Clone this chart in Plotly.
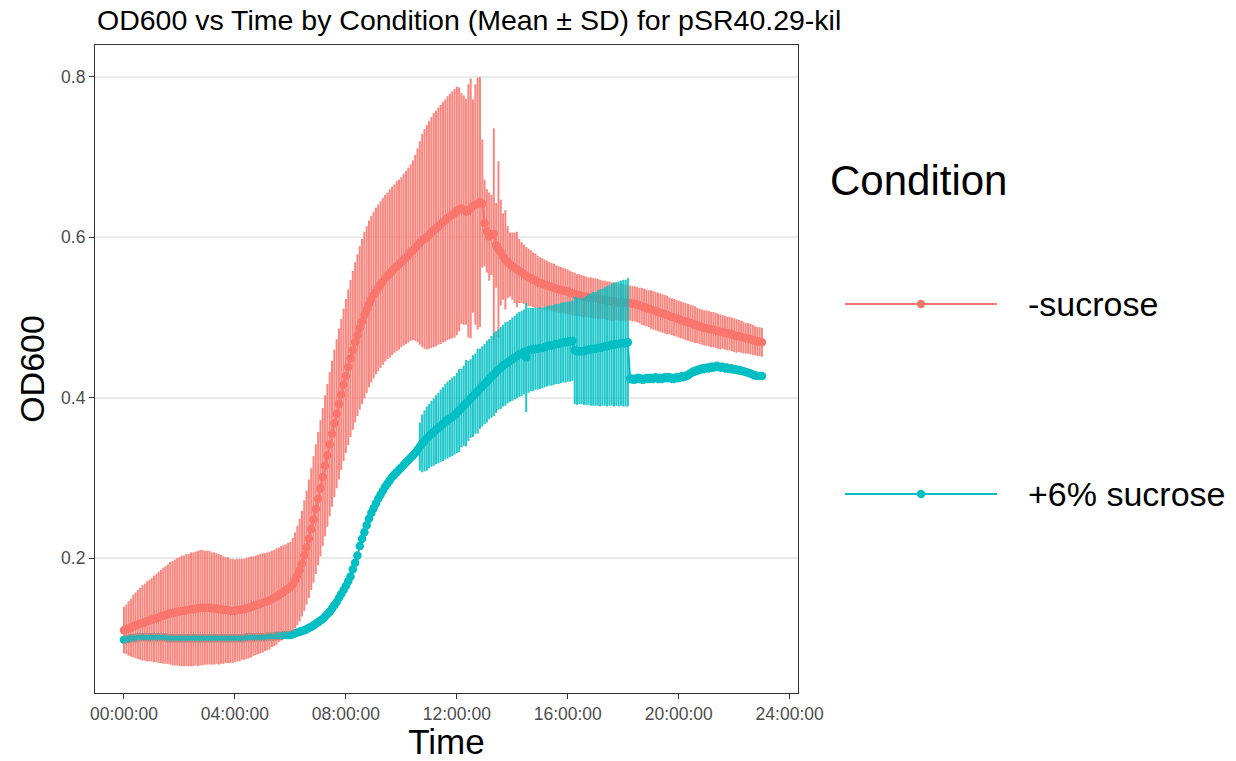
import plotly.graph_objects as go

# Plate-reader sampling interval (minutes); one row below = one hour of readings
SAMPLE_MIN = 5

CONDITIONS = ["-sucrose", "+6% sucrose"]
COLORS = {"-sucrose": "#F8766D", "+6% sucrose": "#00BFC4"}
BAR_COLORS = {"-sucrose": "rgba(248,118,109,0.88)", "+6% sucrose": "rgba(0,191,196,0.88)"}

TICK_HOURS = [0, 4, 8, 12, 16, 20, 24]
TICK_LABELS = ["00:00:00", "04:00:00", "08:00:00", "12:00:00", "16:00:00", "20:00:00", "24:00:00"]
Y_TICKS = [0.2, 0.4, 0.6, 0.8]
Y_TICK_LABELS = ["0.2", "0.4", "0.6", "0.8"]

# mean OD600, -sucrose
od_minus_mean = [
    0.110, 0.111, 0.112, 0.113, 0.115, 0.116, 0.117, 0.118, 0.119, 0.120, 0.121, 0.122,
    0.123, 0.124, 0.125, 0.126, 0.127, 0.128, 0.129, 0.130, 0.131, 0.131, 0.132, 0.133,
    0.133, 0.134, 0.134, 0.135, 0.135, 0.136, 0.136, 0.137, 0.137, 0.138, 0.138, 0.138,
    0.138, 0.138, 0.137, 0.137, 0.137, 0.136, 0.136, 0.135, 0.135, 0.135, 0.134, 0.134,
    0.134, 0.135, 0.135, 0.136, 0.136, 0.137, 0.138, 0.139, 0.140, 0.141, 0.142, 0.143,
    0.144, 0.145, 0.146, 0.147, 0.149, 0.150, 0.152, 0.154, 0.156, 0.158, 0.160, 0.162,
    0.164, 0.167, 0.172, 0.178, 0.185, 0.193, 0.203, 0.213, 0.224, 0.236, 0.248, 0.261,
    0.274, 0.287, 0.301, 0.315, 0.328, 0.342, 0.355, 0.368, 0.380, 0.392, 0.404, 0.416,
    0.427, 0.438, 0.449, 0.459, 0.469, 0.478, 0.487, 0.495, 0.503, 0.510, 0.517, 0.523,
    0.528, 0.533, 0.537, 0.541, 0.545, 0.549, 0.552, 0.555, 0.558, 0.561, 0.564, 0.566,
    0.569, 0.572, 0.575, 0.578, 0.581, 0.584, 0.587, 0.590, 0.593, 0.596, 0.598, 0.600,
    0.603, 0.606, 0.609, 0.611, 0.614, 0.616, 0.619, 0.621, 0.624, 0.626, 0.628, 0.630,
    0.633, 0.635, 0.636, 0.634, 0.632, 0.633, 0.636, 0.639, 0.641, 0.642, 0.644, 0.642,
    0.618, 0.608, 0.601, 0.603, 0.604, 0.590, 0.585, 0.581, 0.576, 0.572, 0.569, 0.566,
    0.564, 0.562, 0.560, 0.558, 0.556, 0.554, 0.552, 0.550, 0.549, 0.547, 0.546, 0.544,
    0.543, 0.542, 0.541, 0.540, 0.539, 0.538, 0.537, 0.536, 0.535, 0.534, 0.534, 0.533,
    0.532, 0.531, 0.530, 0.529, 0.528, 0.528, 0.527, 0.526, 0.526, 0.525, 0.525, 0.524,
    0.524, 0.523, 0.523, 0.522, 0.522, 0.521, 0.521, 0.520, 0.520, 0.520, 0.519, 0.519,
    0.519, 0.518, 0.518, 0.518, 0.517, 0.517, 0.516, 0.515, 0.514, 0.513, 0.512, 0.511,
    0.510, 0.509, 0.508, 0.507, 0.506, 0.505, 0.504, 0.503, 0.502, 0.501, 0.500, 0.499,
    0.498, 0.497, 0.496, 0.495, 0.494, 0.493, 0.492, 0.491, 0.490, 0.489, 0.488, 0.487,
    0.487, 0.486, 0.485, 0.485, 0.484, 0.483, 0.482, 0.482, 0.481, 0.480, 0.480, 0.479,
    0.478, 0.477, 0.477, 0.476, 0.475, 0.474, 0.474, 0.473, 0.472, 0.471, 0.470, 0.470,
    0.469,
]

# standard deviation, -sucrose
od_minus_sd = [
    0.029, 0.031, 0.034, 0.036, 0.039, 0.041, 0.043, 0.045, 0.047, 0.048, 0.050, 0.051,
    0.052, 0.054, 0.055, 0.057, 0.058, 0.060, 0.061, 0.062, 0.064, 0.065, 0.066, 0.067,
    0.068, 0.069, 0.069, 0.070, 0.070, 0.071, 0.071, 0.071, 0.072, 0.072, 0.072, 0.071,
    0.071, 0.071, 0.070, 0.070, 0.069, 0.069, 0.068, 0.067, 0.066, 0.066, 0.065, 0.065,
    0.064, 0.064, 0.064, 0.063, 0.063, 0.063, 0.063, 0.063, 0.062, 0.062, 0.062, 0.062,
    0.062, 0.061, 0.061, 0.061, 0.060, 0.060, 0.060, 0.059, 0.059, 0.058, 0.057, 0.057,
    0.056, 0.058, 0.060, 0.062, 0.064, 0.066, 0.069, 0.071, 0.074, 0.076, 0.079, 0.081,
    0.083, 0.085, 0.086, 0.088, 0.089, 0.090, 0.091, 0.092, 0.093, 0.094, 0.094, 0.095,
    0.096, 0.097, 0.098, 0.099, 0.100, 0.101, 0.102, 0.103, 0.104, 0.104, 0.104, 0.104,
    0.104, 0.104, 0.104, 0.104, 0.104, 0.104, 0.104, 0.105, 0.105, 0.105, 0.106, 0.106,
    0.106, 0.107, 0.108, 0.109, 0.110, 0.112, 0.116, 0.121, 0.127, 0.133, 0.137, 0.140,
    0.142, 0.144, 0.146, 0.147, 0.148, 0.149, 0.150, 0.151, 0.152, 0.153, 0.154, 0.155,
    0.155, 0.152, 0.144, 0.143, 0.141, 0.158, 0.162, 0.133, 0.150, 0.157, 0.156, 0.080,
    0.054, 0.052, 0.055, 0.050, 0.132, 0.053, 0.110, 0.066, 0.054, 0.062, 0.045, 0.040,
    0.042, 0.044, 0.047, 0.040, 0.038, 0.037, 0.036, 0.036, 0.035, 0.034, 0.034, 0.033,
    0.032, 0.032, 0.031, 0.031, 0.030, 0.030, 0.030, 0.029, 0.029, 0.029, 0.028, 0.028,
    0.028, 0.027, 0.027, 0.027, 0.026, 0.026, 0.026, 0.026, 0.025, 0.025, 0.025, 0.025,
    0.025, 0.025, 0.024, 0.024, 0.024, 0.024, 0.024, 0.024, 0.024, 0.023, 0.023, 0.023,
    0.023, 0.023, 0.022, 0.022, 0.022, 0.022, 0.022, 0.022, 0.023, 0.023, 0.023, 0.023,
    0.024, 0.024, 0.024, 0.024, 0.024, 0.024, 0.024, 0.024, 0.023, 0.023, 0.023, 0.023,
    0.023, 0.023, 0.023, 0.023, 0.023, 0.023, 0.023, 0.023, 0.022, 0.022, 0.022, 0.022,
    0.022, 0.022, 0.022, 0.022, 0.022, 0.022, 0.022, 0.021, 0.021, 0.021, 0.021, 0.021,
    0.021, 0.021, 0.020, 0.020, 0.020, 0.019, 0.019, 0.019, 0.019, 0.018, 0.018, 0.018,
    0.018,
]

# mean OD600, +6% sucrose
od_plus_mean = [
    0.098, 0.099, 0.099, 0.100, 0.100, 0.100, 0.101, 0.101, 0.101, 0.101, 0.101, 0.101,
    0.101, 0.101, 0.101, 0.101, 0.101, 0.101, 0.101, 0.100, 0.100, 0.100, 0.100, 0.100,
    0.100, 0.100, 0.100, 0.100, 0.100, 0.100, 0.100, 0.100, 0.100, 0.100, 0.100, 0.100,
    0.100, 0.100, 0.100, 0.100, 0.100, 0.100, 0.100, 0.100, 0.100, 0.100, 0.100, 0.100,
    0.100, 0.100, 0.100, 0.100, 0.100, 0.101, 0.101, 0.101, 0.101, 0.101, 0.101, 0.101,
    0.101, 0.101, 0.102, 0.102, 0.102, 0.102, 0.103, 0.103, 0.103, 0.104, 0.104, 0.104,
    0.104, 0.105, 0.106, 0.107, 0.108, 0.109, 0.110, 0.111, 0.113, 0.114, 0.116, 0.118,
    0.120, 0.122, 0.124, 0.127, 0.130, 0.133, 0.137, 0.141, 0.145, 0.150, 0.155, 0.160,
    0.165, 0.171, 0.177, 0.186, 0.194, 0.203, 0.215, 0.224, 0.232, 0.241, 0.249, 0.256,
    0.262, 0.268, 0.274, 0.279, 0.284, 0.289, 0.293, 0.297, 0.301, 0.304, 0.307, 0.310,
    0.313, 0.316, 0.319, 0.322, 0.325, 0.328, 0.331, 0.335, 0.339, 0.343, 0.346, 0.349,
    0.352, 0.355, 0.357, 0.360, 0.362, 0.365, 0.367, 0.370, 0.372, 0.374, 0.376, 0.378,
    0.381, 0.384, 0.387, 0.390, 0.393, 0.396, 0.399, 0.402, 0.405, 0.408, 0.411, 0.414,
    0.417, 0.420, 0.423, 0.426, 0.429, 0.432, 0.435, 0.437, 0.440, 0.442, 0.444, 0.446,
    0.448, 0.450, 0.452, 0.454, 0.455, 0.457, 0.450, 0.459, 0.460, 0.460, 0.461, 0.461,
    0.462, 0.462, 0.463, 0.464, 0.465, 0.465, 0.466, 0.467, 0.467, 0.468, 0.469, 0.469,
    0.470, 0.470, 0.471, 0.459, 0.458, 0.458, 0.458, 0.458, 0.459, 0.460, 0.460, 0.461,
    0.461, 0.462, 0.462, 0.463, 0.464, 0.464, 0.465, 0.466, 0.466, 0.467, 0.467, 0.468,
    0.468, 0.468, 0.469, 0.424, 0.423, 0.423, 0.424, 0.424, 0.423, 0.423, 0.424, 0.424,
    0.424, 0.424, 0.425, 0.424, 0.424, 0.424, 0.425, 0.425, 0.425, 0.424, 0.424, 0.425,
    0.425, 0.426, 0.426, 0.427, 0.428, 0.430, 0.432, 0.433, 0.434, 0.435, 0.436, 0.436,
    0.437, 0.437, 0.438, 0.438, 0.439, 0.439, 0.438, 0.438, 0.437, 0.437, 0.436, 0.436,
    0.435, 0.435, 0.434, 0.434, 0.433, 0.432, 0.431, 0.430, 0.429, 0.428, 0.427, 0.427,
    0.427,
]

# standard deviation, +6% sucrose
od_plus_sd = [
    0.004, 0.004, 0.004, 0.004, 0.003, 0.003, 0.003, 0.003, 0.003, 0.003, 0.003, 0.003,
    0.003, 0.003, 0.003, 0.003, 0.003, 0.003, 0.003, 0.003, 0.003, 0.003, 0.003, 0.003,
    0.003, 0.003, 0.003, 0.003, 0.003, 0.003, 0.003, 0.003, 0.003, 0.003, 0.003, 0.003,
    0.003, 0.003, 0.003, 0.003, 0.003, 0.003, 0.003, 0.003, 0.003, 0.003, 0.003, 0.003,
    0.003, 0.003, 0.003, 0.003, 0.003, 0.003, 0.003, 0.003, 0.003, 0.003, 0.003, 0.003,
    0.003, 0.003, 0.003, 0.003, 0.003, 0.003, 0.004, 0.004, 0.004, 0.004, 0.004, 0.004,
    0.004, 0.004, 0.004, 0.004, 0.004, 0.004, 0.004, 0.004, 0.004, 0.004, 0.004, 0.004,
    0.004, 0.004, 0.004, 0.004, 0.004, 0.004, 0.004, 0.004, 0.004, 0.004, 0.004, 0.004,
    0.004, 0.004, 0.004, 0.005, 0.005, 0.005, 0.005, 0.005, 0.005, 0.005, 0.005, 0.005,
    0.005, 0.005, 0.005, 0.005, 0.005, 0.005, 0.005, 0.005, 0.005, 0.005, 0.005, 0.005,
    0.005, 0.005, 0.005, 0.005, 0.005, 0.005, 0.005, 0.005, 0.030, 0.036, 0.038, 0.040,
    0.040, 0.041, 0.042, 0.043, 0.044, 0.045, 0.046, 0.047, 0.048, 0.048, 0.049, 0.049,
    0.050, 0.052, 0.049, 0.050, 0.054, 0.050, 0.049, 0.051, 0.050, 0.053, 0.050, 0.050,
    0.050, 0.051, 0.050, 0.051, 0.052, 0.051, 0.050, 0.051, 0.051, 0.052, 0.051, 0.051,
    0.052, 0.052, 0.053, 0.053, 0.053, 0.053, 0.068, 0.053, 0.052, 0.052, 0.051, 0.051,
    0.051, 0.050, 0.050, 0.050, 0.050, 0.050, 0.050, 0.050, 0.050, 0.050, 0.050, 0.050,
    0.050, 0.050, 0.050, 0.067, 0.067, 0.066, 0.066, 0.067, 0.068, 0.069, 0.070, 0.071,
    0.071, 0.072, 0.073, 0.073, 0.074, 0.075, 0.075, 0.076, 0.077, 0.077, 0.078, 0.078,
    0.079, 0.079, 0.080, 0.006, 0.006, 0.006, 0.006, 0.006, 0.006, 0.006, 0.006, 0.006,
    0.006, 0.006, 0.006, 0.006, 0.006, 0.006, 0.006, 0.006, 0.006, 0.006, 0.006, 0.006,
    0.006, 0.006, 0.006, 0.006, 0.006, 0.006, 0.006, 0.006, 0.006, 0.006, 0.006, 0.006,
    0.006, 0.006, 0.006, 0.006, 0.006, 0.006, 0.006, 0.006, 0.006, 0.006, 0.006, 0.006,
    0.005, 0.005, 0.005, 0.005, 0.005, 0.005, 0.005, 0.005, 0.005, 0.005, 0.005, 0.005,
    0.005,
]

MEANS = {"-sucrose": od_minus_mean, "+6% sucrose": od_plus_mean}
SDS = {"-sucrose": od_minus_sd, "+6% sucrose": od_plus_sd}

FONT = "Liberation Sans, Arial, Helvetica, sans-serif"
Y_RANGE = [0.0316, 0.8399]
X_RANGE = [-1.045, 24.30]


def sample_hours(n):
    return [i * SAMPLE_MIN / 60 for i in range(n)]


fig = go.Figure()

# mean line + points for each condition
for cond in CONDITIONS:
    y = MEANS[cond]
    fig.add_trace(go.Scatter(
        x=sample_hours(len(y)), y=y, mode="lines+markers", name=cond,
        line=dict(color=COLORS[cond], width=1.8),
        marker=dict(color=COLORS[cond], size=8.5),
        showlegend=False,
    ))

# mean +/- SD whiskers (one vertical segment per reading), drawn over the points
for cond in CONDITIONS:
    y, sd = MEANS[cond], SDS[cond]
    seg_x, seg_y = [], []
    for t, m, s in zip(sample_hours(len(y)), y, sd):
        seg_x += [t, t, None]
        seg_y += [m - s, m + s, None]
    fig.add_trace(go.Scatter(
        x=seg_x, y=seg_y, mode="lines", name=cond + " SD",
        line=dict(color=BAR_COLORS[cond], width=2.0),
        connectgaps=False, showlegend=False, hoverinfo="skip",
    ))

# plot-area geometry in pixels (used to place the legend block)
W, H = 1236, 761
L, R, T, B = 95, 438, 45, 68
PW, PH = W - L - R, H - T - B


def px(xp):
    return (xp - L) / PW


def py(yp):
    return (H - B - yp) / PH


annotations = [dict(
    text="Condition", x=px(828), y=py(180), xref="paper", yref="paper",
    xanchor="left", yanchor="middle", showarrow=False,
    font=dict(family=FONT, size=42, color="black"),
)]
shapes = []
for cond, yk in zip(CONDITIONS, [304, 494]):
    shapes.append(dict(type="line", xref="paper", yref="paper",
                       x0=px(845), x1=px(997), y0=py(yk), y1=py(yk),
                       line=dict(color=COLORS[cond], width=1.8)))
    shapes.append(dict(type="circle", xref="paper", yref="paper",
                       x0=px(921 - 4.2), x1=px(921 + 4.2),
                       y0=py(yk + 4.2), y1=py(yk - 4.2),
                       fillcolor=COLORS[cond], line=dict(width=0)))
    annotations.append(dict(
        text=cond, x=px(1026), y=py(yk), xref="paper", yref="paper",
        xanchor="left", yanchor="middle", showarrow=False,
        font=dict(family=FONT, size=34, color="black"),
    ))

fig.update_layout(
    width=W, height=H,
    margin=dict(l=L, r=R, t=T, b=B),
    paper_bgcolor="white", plot_bgcolor="white",
    font=dict(family=FONT, color="black"),
    title=dict(text="OD600 vs Time by Condition (Mean ± SD) for pSR40.29-kil",
               x=97 / W, xanchor="left", xref="container",
               y=1 - 20 / H, yanchor="middle", yref="container",
               font=dict(family=FONT, size=28.5, color="black")),
    showlegend=False,
    annotations=annotations,
    shapes=shapes,
)

fig.update_xaxes(
    range=X_RANGE,
    tickvals=TICK_HOURS, ticktext=TICK_LABELS,
    ticks="outside", ticklen=5, tickwidth=1.1, tickcolor="#333333",
    tickfont=dict(family=FONT, size=17.5, color="#4D4D4D"),
    showgrid=False, zeroline=False,
    showline=True, mirror=True, linecolor="#333333", linewidth=1.1,
    title=dict(text="Time", font=dict(family=FONT, size=35, color="black"), standoff=4),
    automargin=False,
)
fig.update_yaxes(
    range=Y_RANGE,
    tickvals=Y_TICKS, ticktext=Y_TICK_LABELS,
    ticks="outside", ticklen=5, tickwidth=1.1, tickcolor="#333333",
    tickfont=dict(family=FONT, size=17.5, color="#4D4D4D"),
    showgrid=True, gridcolor="#EBEBEB", gridwidth=1.6,
    zeroline=False,
    showline=True, mirror=True, linecolor="#333333", linewidth=1.1,
    title=dict(text="OD600", font=dict(family=FONT, size=34, color="black"), standoff=6),
    automargin=False,
)

fig.write_html("out.html")
